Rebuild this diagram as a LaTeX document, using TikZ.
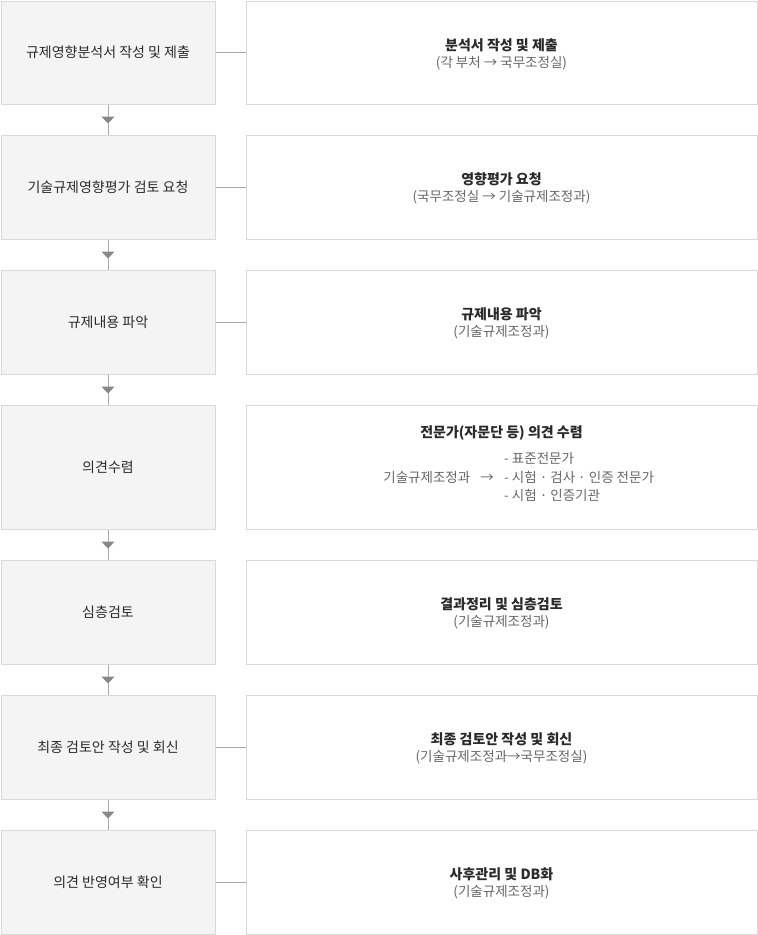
\documentclass[tikz,border=0pt]{standalone}
\usepackage{fontspec}
\setmainfont{Noto Sans CJK KR}
\usetikzlibrary{arrows.meta,decorations.markings}
\definecolor{boxfill}{HTML}{F4F4F4}
\definecolor{boxline}{HTML}{D9D9D9}
\definecolor{connline}{HTML}{AAAAAA}
\definecolor{tricol}{HTML}{888888}
\definecolor{txtdark}{HTML}{2A2A2A}
\definecolor{txtsub}{HTML}{666666}
\tikzset{
  leftbox/.style={draw=boxline, fill=boxfill, line width=1pt, minimum width=214pt, inner sep=0pt,
    font=\fontsize{14pt}{17pt}\selectfont, text=txtdark},
  rightbox/.style={draw=boxline, fill=white, line width=1pt, minimum width=511pt, inner sep=0pt},
  rtext/.style={align=center, font=\fontsize{13.5pt}{17pt}\selectfont, text=txtsub, inner sep=0pt},
  hconn/.style={draw=connline, line width=1pt},
  vconn/.style={draw=connline, line width=1pt,
    postaction={decorate, decoration={markings,
      mark=at position 19pt with {\arrow[tricol]{Triangle[width=13pt,length=7pt]}}}}},
}
\newcommand{\ttl}[1]{{\fontsize{14pt}{17pt}\selectfont\textbf{\textcolor{txtdark}{#1}}}}
\begin{document}
\begin{tikzpicture}[x=1pt,y=-1pt]
\useasboundingbox (0,0) rectangle (758,935);
% left boxes
\node[leftbox, minimum height=103pt] (L1) at (108,52.5) {규제영향분석서 작성 및 제출};
\node[leftbox, minimum height=104pt] (L2) at (108,187) {기술규제영향평가 검토 요청};
\node[leftbox, minimum height=104pt] (L3) at (108,322) {규제내용 파악};
\node[leftbox, minimum height=124pt] (L4) at (108,467) {의견수렴};
\node[leftbox, minimum height=104pt] (L5) at (108,612) {심층검토};
\node[leftbox, minimum height=104pt] (L6) at (108,747) {최종 검토안 작성 및 회신};
\node[leftbox, minimum height=104pt] (L7) at (108,882) {의견 반영여부 확인};
% right boxes
\node[rightbox, minimum height=103pt] (R1) at (501.5,52.5) {};
\node[rightbox, minimum height=104pt] (R2) at (501.5,187) {};
\node[rightbox, minimum height=104pt] (R3) at (501.5,322) {};
\node[rightbox, minimum height=124pt] (R4) at (501.5,467) {};
\node[rightbox, minimum height=104pt] (R5) at (501.5,612) {};
\node[rightbox, minimum height=104pt] (R6) at (501.5,747) {};
\node[rightbox, minimum height=104pt] (R7) at (501.5,882) {};
% right texts
\node[rtext] (T1) at ([yshift=-1.5pt]R1.center) {\ttl{분석서 작성 및 제출}\\(각 부처 → 국무조정실)};
\node[rtext] (T2) at ([yshift=-1.5pt]R2.center) {\ttl{영향평가 요청}\\(국무조정실 → 기술규제조정과)};
\node[rtext] (T3) at ([yshift=-1.5pt]R3.center) {\ttl{규제내용 파악}\\(기술규제조정과)};
\node[rtext] (T4a) at (501.5,433) {\ttl{전문가(자문단 등) 의견 수렴}};
\node[rtext, align=left, anchor=west, font=\fontsize{13.5pt}{18.5pt}\selectfont] (T4c) at (504,477) {- 표준전문가\\- 시험 · 검사 · 인증 전문가\\- 시험 · 인증기관};
\node[rtext, anchor=east] (T4b) at (494,477) {기술규제조정과\hspace{10pt}→};
\node[rtext] (T5) at ([yshift=-1.5pt]R5.center) {\ttl{결과정리 및 심층검토}\\(기술규제조정과)};
\node[rtext] (T6) at ([yshift=-1.5pt]R6.center) {\ttl{최종 검토안 작성 및 회신}\\(기술규제조정과→국무조정실)};
\node[rtext] (T7) at ([yshift=-1.5pt]R7.center) {\ttl{사후관리 및 DB화}\\(기술규제조정과)};
% horizontal connectors
\foreach \i in {1,2,3,6,7} \draw[hconn] (L\i.east) -- (R\i.west);
% vertical connectors
\foreach \i/\j in {1/2,2/3,3/4,4/5,5/6,6/7} \draw[vconn] (L\i.south) -- (L\j.north);
\end{tikzpicture}
\end{document}
